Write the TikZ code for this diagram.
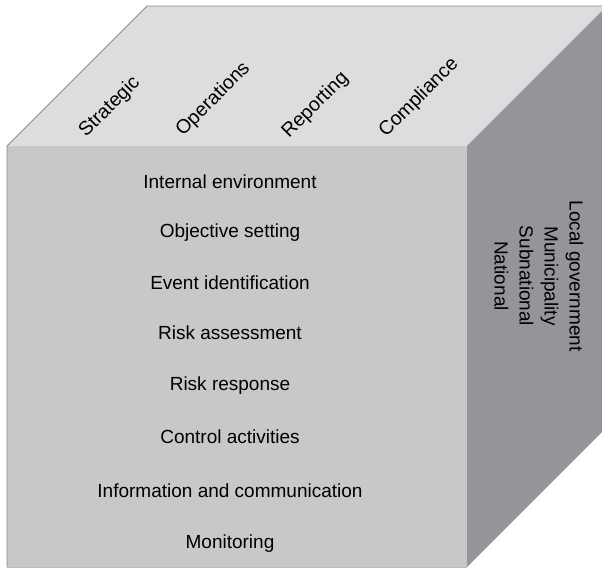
\documentclass[tikz,border=0pt]{standalone}
\usepackage{fontspec}
\setmainfont{Liberation Sans}
\definecolor{topc}{HTML}{DCDDDF}
\definecolor{frontc}{HTML}{C7C8CA}
\definecolor{sidec}{HTML}{939598}
\definecolor{edgec}{HTML}{8C8D90}
\begin{document}
\begin{tikzpicture}[x=1pt,y=1pt,
  lab/.style={font=\fontsize{19}{22}\selectfont, inner sep=0pt},
  toplab/.style={font=\fontsize{19.5}{22}\selectfont, inner sep=0pt, rotate=45, anchor=base west},
  edge/.style={draw=edgec, line width=0.8pt}]
\useasboundingbox (0,0) rectangle (602,569);
\begin{scope}
\clip (0,0) rectangle (602,569);
% top face
\fill[topc] (7,423) -- (147,563) -- (607,563) -- (467,423) -- cycle;
% right face
\fill[sidec] (467,423) -- (607,563) -- (607,142) -- (467,2) -- cycle;
% front face
\fill[frontc] (7,2) rectangle (467,423);
\draw[edge] (7,2) -- (7,423) -- (147,563) -- (607,563);
\draw[draw=edgec!60, line width=0.6pt] (7,2) -- (467,2);
\end{scope}
% front labels
\node[lab] (l1) at (230,387) {Internal environment};
\node[lab] (l2) at (230,336) {Objective setting};
\node[lab] (l3) at (230,286) {Event identification};
\node[lab] (l4) at (230,236) {Risk assessment};
\node[lab] (l5) at (230,183) {Risk response};
\node[lab] (l6) at (230,132) {Control activities};
\node[lab] (l7) at (230,78) {Information and communication};
\node[lab] (l8) at (230,25) {Monitoring};
% top labels
\node[toplab] (t1) at (86,431) {Strategic};
\node[toplab] (t2) at (183,432) {Operations};
\node[toplab] (t3) at (289,430) {Reporting};
\node[toplab] (t4) at (386,431) {Compliance};
% side labels
\node[lab, rotate=-90, align=center, font=\fontsize{19}{25}\selectfont] (s1) at (539,293) {Local government\\Municipality\\Subnational\\National};
\end{tikzpicture}
\end{document}
